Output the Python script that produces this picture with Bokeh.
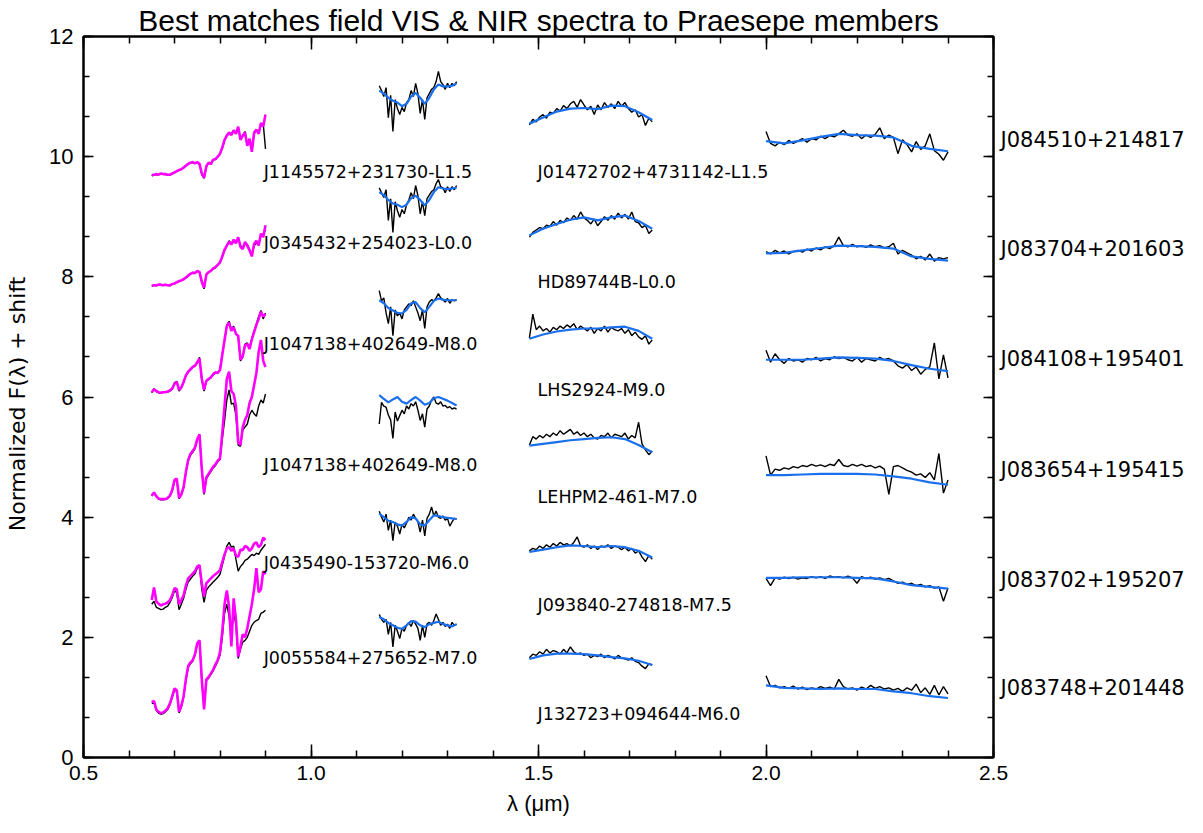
import numpy as np
from bokeh.plotting import figure
from bokeh.models import FixedTicker, LinearAxis, Label, PrintfTickFormatter, Range1d
from bokeh.embed import file_html
from bokeh.resources import INLINE

# wavelength grids (micron)
wl_vis = np.round(np.arange(0.65, 0.9001, 0.005), 4)
wl_j = np.round(np.arange(1.15, 1.3201, 0.005), 4)
wl_j_mod = np.round(np.arange(1.15, 1.3201, 0.01), 4)
wl_h = np.round(np.arange(1.48, 1.7501, 0.0075), 4)
wl_h_mod = np.round(np.arange(1.48, 1.7501, 0.03), 4)
wl_k = np.round(np.arange(2.0, 2.4001, 0.01), 4)
wl_k_mod = np.round(np.arange(2.0, 2.4001, 0.04), 4)

# VIS: magenta (field templates) and black (Praesepe members)
vis_mag = [
    [9.69, 9.70, 9.71, 9.70, 9.72, 9.71, 9.71, 9.70, 9.70, 9.72, 9.74, 9.76, 9.78, 9.79, 9.82, 9.85, 9.88, 9.90, 9.91, 9.89,
     9.91, 9.88, 9.72, 9.65, 9.84, 9.90, 9.88, 9.95, 9.96, 10.00, 10.05, 10.15, 10.28, 10.35, 10.40, 10.36, 10.44, 10.38, 10.50, 10.28,
     10.35, 10.40, 10.18, 10.30, 10.08, 10.40, 10.45, 10.38, 10.56, 10.50, 10.70],
    [7.85, 7.86, 7.86, 7.87, 7.87, 7.86, 7.87, 7.86, 7.86, 7.88, 7.89, 7.91, 7.93, 7.94, 7.96, 7.99, 8.02, 8.05, 8.07, 8.06,
     8.10, 8.08, 7.92, 7.82, 8.04, 8.08, 8.10, 8.14, 8.16, 8.20, 8.24, 8.34, 8.45, 8.52, 8.58, 8.54, 8.62, 8.56, 8.66, 8.50,
     8.46, 8.58, 8.52, 8.44, 8.34, 8.55, 8.60, 8.52, 8.72, 8.66, 8.86],
    [6.08, 6.13, 6.10, 6.08, 6.07, 6.08, 6.08, 6.09, 6.11, 6.14, 6.22, 6.25, 6.12, 6.16, 6.25, 6.36, 6.42, 6.46, 6.50, 6.52,
     6.58, 6.64, 6.30, 6.12, 6.27, 6.30, 6.33, 6.38, 6.41, 6.40, 6.45, 6.70, 6.95, 7.18, 7.24, 7.10, 7.16, 7.05, 7.02, 6.62,
     6.68, 6.86, 6.88, 6.80, 6.96, 7.08, 7.20, 7.30, 7.42, 7.34, 7.38],
    [4.36, 4.41, 4.35, 4.31, 4.30, 4.30, 4.30, 4.32, 4.36, 4.45, 4.62, 4.64, 4.32, 4.38, 4.50, 4.75, 4.95, 5.05, 5.10, 5.16,
     5.30, 5.38, 4.80, 4.40, 4.66, 4.72, 4.78, 4.84, 4.88, 4.94, 4.98, 5.40, 5.85, 6.30, 6.42, 6.10, 6.05, 5.85, 5.25, 5.20,
     5.50, 5.62, 5.70, 5.90, 6.00, 6.20, 6.40, 6.75, 6.95, 6.60, 6.50],
    [2.62, 2.83, 2.60, 2.56, 2.53, 2.55, 2.56, 2.58, 2.62, 2.70, 2.82, 2.80, 2.55, 2.62, 2.70, 2.86, 2.98, 3.02, 3.06, 3.10,
     3.18, 3.20, 2.90, 2.68, 2.90, 2.94, 2.98, 3.02, 3.05, 3.08, 3.12, 3.25, 3.38, 3.48, 3.50, 3.44, 3.48, 3.36, 3.34, 3.46,
     3.45, 3.52, 3.50, 3.44, 3.48, 3.56, 3.58, 3.50, 3.54, 3.66, 3.62],
    [0.92, 0.94, 0.80, 0.76, 0.74, 0.75, 0.78, 0.82, 0.90, 1.02, 1.15, 1.12, 0.76, 0.86, 1.02, 1.30, 1.52, 1.58, 1.62, 1.72,
     1.90, 1.95, 1.30, 0.80, 1.30, 1.34, 1.40, 1.46, 1.55, 1.62, 1.75, 2.10, 2.55, 2.78, 2.50, 1.85, 2.65, 2.30, 1.68, 1.85,
     2.05, 2.00, 2.15, 2.35, 2.55, 2.80, 3.15, 2.75, 2.80, 3.10, 3.05],
]
vis_obs = [
    [9.68, 9.70, 9.70, 9.70, 9.71, 9.71, 9.70, 9.70, 9.69, 9.72, 9.73, 9.76, 9.77, 9.79, 9.81, 9.85, 9.87, 9.90, 9.90, 9.89,
     9.90, 9.87, 9.70, 9.64, 9.83, 9.90, 9.87, 9.95, 9.95, 10.00, 10.04, 10.14, 10.27, 10.36, 10.40, 10.38, 10.42, 10.40, 10.48, 10.30,
     10.34, 10.42, 10.20, 10.28, 10.10, 10.38, 10.44, 10.40, 10.52, 10.55, 10.13],
    [7.84, 7.86, 7.85, 7.87, 7.86, 7.86, 7.86, 7.86, 7.85, 7.88, 7.88, 7.91, 7.92, 7.94, 7.96, 7.98, 8.01, 8.05, 8.06, 8.06,
     8.09, 8.07, 7.90, 7.80, 8.03, 8.08, 8.10, 8.13, 8.15, 8.20, 8.23, 8.33, 8.44, 8.53, 8.60, 8.55, 8.58, 8.58, 8.64, 8.52,
     8.48, 8.56, 8.54, 8.46, 8.36, 8.52, 8.56, 8.54, 8.70, 8.68, 8.80],
    [6.07, 6.14, 6.09, 6.07, 6.06, 6.08, 6.08, 6.08, 6.10, 6.13, 6.24, 6.26, 6.10, 6.15, 6.24, 6.35, 6.41, 6.45, 6.49, 6.52,
     6.56, 6.66, 6.28, 6.10, 6.26, 6.29, 6.32, 6.37, 6.40, 6.41, 6.46, 6.72, 6.93, 7.20, 7.26, 7.12, 7.18, 7.06, 7.00, 6.60,
     6.66, 6.88, 6.90, 6.82, 6.98, 7.10, 7.22, 7.34, 7.44, 7.30, 7.40],
    [4.35, 4.40, 4.34, 4.30, 4.29, 4.29, 4.30, 4.31, 4.35, 4.44, 4.60, 4.62, 4.31, 4.37, 4.49, 4.74, 4.93, 5.03, 5.08, 5.14,
     5.28, 5.36, 4.78, 4.38, 4.64, 4.70, 4.76, 4.82, 4.86, 4.92, 4.96, 5.30, 5.60, 5.95, 6.12, 5.88, 5.90, 5.70, 5.20, 5.18,
     5.45, 5.50, 5.55, 5.70, 5.78, 5.72, 5.68, 5.85, 5.95, 5.90, 6.05],
    [2.55, 2.60, 2.50, 2.48, 2.46, 2.47, 2.50, 2.52, 2.58, 2.66, 2.78, 2.74, 2.46, 2.55, 2.65, 2.80, 2.92, 2.97, 3.02, 3.06,
     3.15, 3.18, 2.80, 2.58, 2.78, 2.84, 2.88, 2.92, 2.96, 3.00, 3.05, 3.20, 3.35, 3.52, 3.58, 3.50, 3.52, 3.30, 3.10, 3.18,
     3.22, 3.28, 3.30, 3.34, 3.38, 3.36, 3.40, 3.38, 3.45, 3.50, 3.55],
    [0.90, 0.92, 0.78, 0.74, 0.72, 0.73, 0.76, 0.80, 0.88, 1.00, 1.12, 1.10, 0.74, 0.84, 1.00, 1.28, 1.50, 1.56, 1.60, 1.70,
     1.88, 1.92, 1.28, 0.85, 1.28, 1.32, 1.38, 1.44, 1.52, 1.60, 1.70, 2.00, 2.40, 2.55, 2.35, 2.00, 2.45, 2.20, 1.65, 1.80,
     1.92, 1.95, 2.00, 2.10, 2.20, 2.25, 2.28, 2.30, 2.40, 2.42, 2.45],
]

# J band
j_obs = [
    [11.18, 11.10, 11.00, 11.15, 10.65, 11.02, 10.42, 10.95, 10.80, 10.70, 10.82, 10.75, 10.90, 10.95, 11.10, 11.00, 11.22, 11.05, 10.72, 10.95, 10.62, 10.98, 11.05, 11.12, 11.15, 11.25, 11.42, 11.25, 11.20, 11.12, 11.22, 11.15, 11.22, 11.18, 11.25],
    [9.48, 9.40, 9.32, 9.45, 8.94, 9.30, 8.74, 9.25, 9.10, 8.99, 9.12, 9.05, 9.20, 9.28, 9.40, 9.30, 9.52, 9.35, 9.05, 9.25, 9.02, 9.30, 9.36, 9.42, 9.45, 9.55, 9.62, 9.50, 9.48, 9.40, 9.50, 9.42, 9.50, 9.45, 9.52],
    [7.77, 7.60, 7.65, 7.40, 7.22, 7.50, 7.02, 7.45, 7.35, 7.40, 7.30, 7.45, 7.50, 7.55, 7.52, 7.60, 7.50, 7.40, 7.27, 7.45, 7.14, 7.50, 7.58, 7.62, 7.60, 7.65, 7.72, 7.65, 7.62, 7.58, 7.64, 7.56, 7.62, 7.60, 7.62],
    [5.55, 5.91, 5.85, 5.83, 5.70, 5.62, 5.31, 5.75, 5.60, 5.69, 5.78, 5.72, 5.85, 5.80, 5.89, 5.85, 5.92, 5.78, 5.61, 5.72, 5.50, 5.80, 5.85, 5.95, 6.00, 5.90, 5.88, 5.92, 5.85, 5.86, 5.82, 5.84, 5.80, 5.82, 5.80],
    [4.10, 4.00, 3.92, 4.05, 3.78, 3.95, 3.61, 3.92, 3.85, 3.72, 3.88, 3.82, 3.90, 4.00, 3.95, 4.05, 3.98, 3.92, 3.75, 3.95, 3.69, 3.98, 4.05, 4.17, 4.02, 4.10, 4.00, 3.98, 4.02, 3.95, 3.98, 3.85, 3.92, 3.98, 3.97],
    [2.38, 2.30, 2.25, 2.30, 2.05, 2.25, 1.84, 2.20, 2.10, 1.98, 2.15, 2.10, 2.20, 2.25, 2.18, 2.28, 2.22, 2.15, 1.95, 2.20, 2.00, 2.22, 2.25, 2.20, 2.28, 2.39, 2.30, 2.20, 2.25, 2.18, 2.22, 2.15, 2.25, 2.20, 2.22],
]
j_mod = [
    [11.10, 11.05, 10.98, 10.93, 10.90, 10.84, 10.88, 11.00, 11.06, 10.98, 10.88, 10.98, 11.12, 11.20, 11.17, 11.17, 11.18, 11.22],
    [9.41, 9.36, 9.28, 9.22, 9.20, 9.16, 9.20, 9.31, 9.35, 9.28, 9.19, 9.28, 9.41, 9.49, 9.47, 9.46, 9.47, 9.48],
    [7.61, 7.56, 7.48, 7.44, 7.40, 7.39, 7.45, 7.56, 7.58, 7.48, 7.41, 7.50, 7.60, 7.64, 7.62, 7.61, 7.61, 7.61],
    [6.03, 5.97, 5.91, 5.96, 6.00, 5.92, 5.89, 5.95, 6.00, 5.94, 5.87, 5.90, 5.98, 6.00, 5.97, 5.94, 5.90, 5.86],
    [4.06, 4.00, 3.94, 3.92, 3.88, 3.86, 3.92, 4.00, 3.98, 3.88, 3.86, 3.95, 4.03, 4.02, 4.00, 3.99, 3.98, 3.97],
    [2.34, 2.30, 2.24, 2.20, 2.16, 2.14, 2.20, 2.27, 2.26, 2.20, 2.17, 2.22, 2.24, 2.26, 2.22, 2.20, 2.18, 2.22],
]

# H band
h_obs = [
    [10.53, 10.62, 10.58, 10.66, 10.70, 10.64, 10.74, 10.72, 10.80, 10.76, 10.85, 10.80, 10.88, 10.92, 10.82, 10.95, 10.86, 10.78, 10.84, 10.70, 10.86, 10.78, 10.90, 10.82, 10.88, 10.80, 10.92, 10.84, 10.90, 10.80, 10.74, 10.78, 10.66, 10.70, 10.52, 10.64, 10.58],
    [8.66, 8.74, 8.78, 8.82, 8.80, 8.86, 8.84, 8.92, 8.86, 8.94, 8.90, 8.98, 8.94, 9.02, 8.96, 9.08, 8.98, 8.94, 8.88, 8.96, 8.85, 8.92, 9.00, 8.94, 9.02, 8.96, 9.06, 8.98, 9.04, 8.96, 9.08, 8.92, 8.90, 8.82, 8.86, 8.72, 8.78],
    [6.98, 7.38, 7.12, 7.18, 7.10, 7.14, 7.08, 7.16, 7.12, 7.18, 7.14, 7.20, 7.16, 7.22, 7.12, 7.18, 7.14, 7.10, 7.16, 7.06, 7.14, 7.10, 7.18, 7.08, 7.16, 7.12, 7.10, 7.14, 7.06, 7.12, 7.02, 7.08, 7.00, 6.96, 7.02, 6.88, 6.95],
    [5.20, 5.34, 5.30, 5.36, 5.32, 5.38, 5.34, 5.40, 5.36, 5.44, 5.38, 5.42, 5.46, 5.38, 5.42, 5.36, 5.40, 5.34, 5.38, 5.32, 5.30, 5.36, 5.34, 5.40, 5.32, 5.38, 5.36, 5.34, 5.40, 5.30, 5.36, 5.32, 5.58, 5.22, 5.12, 5.04, 5.10],
    [3.44, 3.48, 3.46, 3.52, 3.48, 3.54, 3.50, 3.56, 3.52, 3.58, 3.54, 3.56, 3.52, 3.58, 3.67, 3.52, 3.50, 3.54, 3.48, 3.52, 3.46, 3.52, 3.50, 3.54, 3.48, 3.52, 3.50, 3.46, 3.50, 3.44, 3.48, 3.40, 3.44, 3.34, 3.26, 3.36, 3.30],
    [1.66, 1.72, 1.70, 1.76, 1.72, 1.80, 1.74, 1.78, 1.76, 1.72, 1.80, 1.74, 1.84, 1.76, 1.72, 1.74, 1.70, 1.72, 1.66, 1.70, 1.68, 1.72, 1.66, 1.70, 1.68, 1.64, 1.70, 1.66, 1.64, 1.62, 1.66, 1.60, 1.58, 1.52, 1.48, 1.56, 1.54],
]
h_mod = [
    [10.55, 10.65, 10.75, 10.80, 10.81, 10.79, 10.85, 10.84, 10.74, 10.61],
    [8.69, 8.80, 8.88, 8.95, 8.99, 8.94, 8.99, 9.02, 8.93, 8.80],
    [6.97, 7.04, 7.09, 7.12, 7.14, 7.14, 7.16, 7.17, 7.10, 6.97],
    [5.19, 5.22, 5.25, 5.28, 5.30, 5.32, 5.33, 5.30, 5.20, 5.08],
    [3.42, 3.46, 3.50, 3.53, 3.52, 3.50, 3.52, 3.50, 3.44, 3.33],
    [1.64, 1.70, 1.73, 1.73, 1.72, 1.70, 1.67, 1.65, 1.61, 1.54],
]

# K band
k_obs = [
    [10.42, 10.22, 10.18, 10.24, 10.20, 10.27, 10.22, 10.26, 10.30, 10.24, 10.30, 10.28, 10.34, 10.30, 10.35, 10.33, 10.38, 10.44, 10.36, 10.34, 10.38, 10.30, 10.36, 10.32, 10.37, 10.48, 10.30, 10.36, 10.32, 10.05, 10.28, 10.20, 10.08, 10.25, 10.12, 10.18, 10.38, 10.10, 10.04, 9.94, 10.08],
    [8.42, 8.38, 8.44, 8.40, 8.43, 8.38, 8.42, 8.44, 8.41, 8.46, 8.43, 8.48, 8.45, 8.50, 8.47, 8.52, 8.66, 8.52, 8.50, 8.54, 8.50, 8.52, 8.49, 8.53, 8.50, 8.52, 8.48, 8.50, 8.56, 8.38, 8.44, 8.40, 8.36, 8.30, 8.34, 8.28, 8.38, 8.26, 8.32, 8.30, 8.32],
    [6.78, 6.58, 6.72, 6.62, 6.56, 6.64, 6.60, 6.62, 6.58, 6.64, 6.62, 6.66, 6.60, 6.64, 6.62, 6.67, 6.64, 6.66, 6.62, 6.60, 6.66, 6.58, 6.64, 6.62, 6.60, 6.66, 6.62, 6.64, 6.60, 6.52, 6.48, 6.54, 6.44, 6.50, 6.38, 6.46, 6.50, 6.90, 6.30, 6.70, 6.32],
    [5.02, 4.70, 4.80, 4.78, 4.82, 4.80, 4.84, 4.82, 4.86, 4.84, 4.88, 4.85, 4.87, 4.84, 4.88, 4.86, 4.96, 4.86, 4.84, 4.88, 4.85, 4.88, 4.84, 4.86, 4.82, 4.85, 4.80, 4.38, 4.84, 4.86, 4.82, 4.78, 4.75, 4.70, 4.72, 4.66, 4.74, 4.62, 5.06, 4.40, 4.62],
    [2.98, 2.86, 2.99, 2.97, 3.00, 2.98, 3.00, 2.97, 2.99, 2.98, 3.01, 2.99, 3.01, 2.98, 3.02, 3.00, 3.01, 2.99, 3.02, 2.99, 2.90, 3.01, 2.98, 3.00, 2.97, 2.99, 2.96, 2.98, 2.94, 2.90, 2.92, 2.88, 2.90, 2.86, 2.88, 2.84, 2.86, 2.82, 2.84, 2.60, 2.82],
    [1.36, 1.18, 1.20, 1.16, 1.18, 1.15, 1.19, 1.14, 1.17, 1.13, 1.16, 1.14, 1.18, 1.15, 1.17, 1.14, 1.30, 1.18, 1.14, 1.16, 1.12, 1.17, 1.14, 1.20, 1.15, 1.18, 1.14, 1.16, 1.12, 1.15, 1.10, 1.16, 1.12, 1.22, 1.08, 1.16, 1.05, 1.20, 1.04, 1.18, 1.06],
]
k_mod = [
    [10.26, 10.22, 10.27, 10.33, 10.38, 10.36, 10.35, 10.32, 10.18, 10.13, 10.09],
    [8.39, 8.40, 8.44, 8.48, 8.52, 8.51, 8.50, 8.47, 8.34, 8.30, 8.27],
    [6.62, 6.62, 6.62, 6.64, 6.66, 6.65, 6.64, 6.60, 6.53, 6.47, 6.43],
    [4.70, 4.70, 4.71, 4.72, 4.72, 4.72, 4.71, 4.68, 4.64, 4.58, 4.54],
    [2.99, 2.99, 3.00, 3.00, 3.00, 2.99, 2.98, 2.93, 2.87, 2.84, 2.81],
    [1.20, 1.16, 1.15, 1.14, 1.15, 1.14, 1.14, 1.10, 1.07, 1.02, 0.99],
]

# labels
vis_names = ["J1145572+231730-L1.5", "J0345432+254023-L0.0", "J1047138+402649-M8.0",
             "J1047138+402649-M8.0", "J0435490-153720-M6.0", "J0055584+275652-M7.0"]
vis_name_y = [9.75, 8.57, 6.89, 4.86, 3.23, 1.65]
nir_names = ["J01472702+4731142-L1.5", "HD89744B-L0.0", "LHS2924-M9.0",
             "LEHPM2-461-M7.0", "J093840-274818-M7.5", "J132723+094644-M6.0"]
nir_name_y = [9.75, 7.91, 6.11, 4.33, 2.53, 0.72]
member_names = ["J084510+214817", "J083704+201603", "J084108+195401",
                "J083654+195415", "J083702+195207", "J083748+201448"]
member_name_y = [10.27, 8.46, 6.64, 4.79, 2.96, 1.15]
title_text = "Best matches field VIS & NIR spectra to Praesepe members"

MAG = "#ff00ff"
BLUE = "#1a6fec"

p = figure(width=1195, height=825, x_range=Range1d(0.5, 2.5), y_range=Range1d(0, 12),
           output_backend="svg", toolbar_location=None,
           min_border_left=83, min_border_right=202, min_border_top=36, min_border_bottom=68)
p.xgrid.visible = False
p.ygrid.visible = False
p.outline_line_color = "black"
p.outline_line_width = 2
p.background_fill_color = "white"
p.border_fill_color = "white"

xt = FixedTicker(ticks=[0.5, 1.0, 1.5, 2.0, 2.5],
                 minor_ticks=list(np.round(np.arange(0.5, 2.501, 0.1), 3)))
yt = FixedTicker(ticks=[0, 2, 4, 6, 8, 10, 12],
                 minor_ticks=list(np.round(np.arange(0, 12.001, 2.0 / 3.0), 4)))

def style_axis(ax, major_len, minor_len):
    ax.major_tick_in = major_len
    ax.major_tick_out = 0
    ax.minor_tick_in = minor_len
    ax.minor_tick_out = 0
    ax.axis_line_width = 2
    ax.major_tick_line_width = 1.5
    ax.minor_tick_line_width = 1.5
    ax.axis_line_color = "black"
    ax.major_tick_line_color = "black"
    ax.minor_tick_line_color = "black"
    ax.major_label_text_color = "black"
    ax.axis_label_text_color = "black"

xa = p.xaxis[0]
xa.ticker = xt
xa.formatter = PrintfTickFormatter(format="%.1f")
style_axis(xa, 13, 7)
xa.major_label_text_font = "Liberation Sans"
xa.major_label_text_font_size = "21px"
xa.major_label_standoff = 8
xa.axis_label = "λ (μm)"
xa.axis_label_text_font = "Liberation Sans"
xa.axis_label_text_font_size = "22px"
xa.axis_label_text_font_style = "normal"
xa.axis_label_standoff = 8

ya = p.yaxis[0]
ya.ticker = yt
style_axis(ya, 10, 6)
ya.major_label_text_font = "Liberation Sans"
ya.major_label_text_font_size = "22px"
ya.major_label_standoff = 10
ya.axis_label = "Normalized F(λ)  +  shift"
ya.axis_label_text_font = "DejaVu Sans"
ya.axis_label_text_font_size = "22px"
ya.axis_label_text_font_style = "normal"
ya.axis_label_standoff = 16

# top mirror axis carrying the title as its label
top = LinearAxis(ticker=xt, major_label_text_font_size="0px", major_label_text_alpha=0,
                 major_label_standoff=0)
style_axis(top, 13, 7)
top.axis_label = title_text
top.axis_label_text_font = "Liberation Sans"
top.axis_label_text_font_size = "30px"
top.axis_label_text_font_style = "normal"
top.axis_label_standoff = 0
p.add_layout(top, "above")

# right mirror axis (ticks only)
right = LinearAxis(ticker=yt, major_label_text_font_size="0px", major_label_text_alpha=0,
                   major_label_standoff=0)
style_axis(right, 10, 6)
p.add_layout(right, "right")

# right labels: names of the Praesepe members
name_ax = LinearAxis(ticker=FixedTicker(ticks=member_name_y, minor_ticks=[]),
                     major_label_overrides={v: n for v, n in zip(member_name_y, member_names)})
name_ax.axis_line_color = None
name_ax.major_tick_line_color = None
name_ax.minor_tick_line_color = None
name_ax.major_tick_in = 0
name_ax.major_tick_out = 0
name_ax.minor_tick_in = 0
name_ax.minor_tick_out = 0
name_ax.major_label_text_font = "DejaVu Sans"
name_ax.major_label_text_font_size = "21px"
name_ax.major_label_text_color = "black"
name_ax.major_label_standoff = 7
p.add_layout(name_ax, "right")

for i in range(6):
    p.line(wl_vis, vis_obs[i], color="black", line_width=1.4)
    p.line(wl_vis, vis_mag[i], color=MAG, line_width=2.6)
    p.line(wl_j, j_obs[i], color="black", line_width=1.4)
    p.line(wl_j_mod, j_mod[i], color=BLUE, line_width=2.2)
    p.line(wl_h, h_obs[i], color="black", line_width=1.4)
    p.line(wl_h_mod, h_mod[i], color=BLUE, line_width=2.2)
    p.line(wl_k, k_obs[i], color="black", line_width=1.4)
    p.line(wl_k_mod, k_mod[i], color=BLUE, line_width=2.2)

for name, yy in zip(vis_names, vis_name_y):
    p.add_layout(Label(x=0.896, y=yy, text=name, text_font="DejaVu Sans", text_color="black",
                       text_font_size="17.5px", text_baseline="middle", text_align="left"))
for name, yy in zip(nir_names, nir_name_y):
    p.add_layout(Label(x=1.498, y=yy, text=name, text_font="DejaVu Sans", text_color="black",
                       text_font_size="17.5px", text_baseline="middle", text_align="left"))

open("out.html", "w").write(file_html(p, INLINE))
